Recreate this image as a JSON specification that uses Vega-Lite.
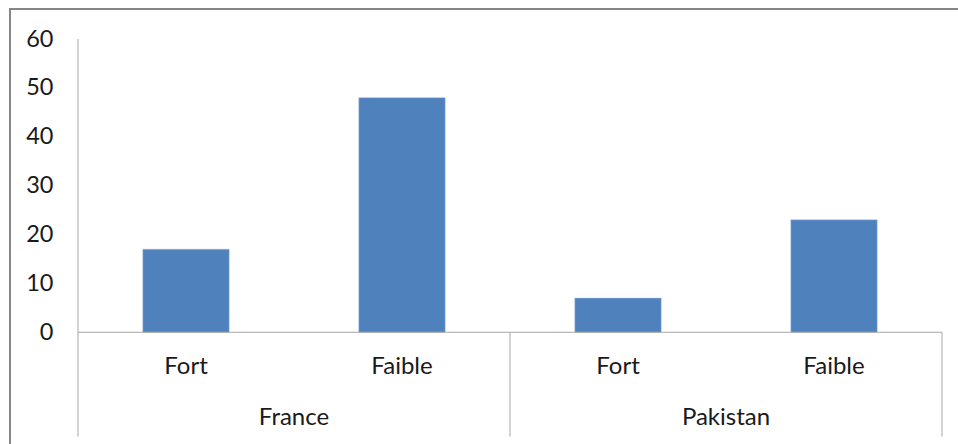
{
  "$schema": "https://vega.github.io/schema/vega-lite/v6.json",
  "width": 960,
  "height": 450,
  "autosize": {"type": "none"},
  "padding": {"left": 10, "top": 9, "right": 0, "bottom": 0},
  "background": "white",
  "config": {
    "view": {"stroke": "#868686", "strokeWidth": 2},
    "font": "Lato",
    "text": {"font": "Lato", "fontSize": 24, "color": "#1a1a1a"},
    "rule": {"color": "#a6a6a6", "strokeWidth": 1}
  },
  "data": {
    "values": [
      {"bar": "France Fort", "country": "France", "level": "Fort", "value": 17},
      {"bar": "France Faible", "country": "France", "level": "Faible", "value": 48},
      {"bar": "Pakistan Fort", "country": "Pakistan", "level": "Fort", "value": 7},
      {"bar": "Pakistan Faible", "country": "Pakistan", "level": "Faible", "value": 23}
    ]
  },
  "encoding": {
    "x": {
      "field": "bar",
      "type": "nominal",
      "sort": null,
      "scale": {"paddingInner": 0.6, "paddingOuter": 0.5222, "align": 0.5887},
      "axis": null
    }
  },
  "layer": [
    {
      "mark": {"type": "bar", "color": "#4F81BD", "stroke": "#A7BFDE", "strokeWidth": 0.5},
      "encoding": {
        "y": {
          "field": "value",
          "type": "quantitative",
          "scale": {"domain": [-25.92, 66.14], "nice": false, "zero": false},
          "axis": {
            "values": [0, 10, 20, 30, 40, 50, 60],
            "domain": false,
            "ticks": false,
            "grid": false,
            "offset": -68,
            "labelPadding": 25,
            "title": null,
            "labelFont": "Lato",
            "labelFontSize": 23.5,
            "labelColor": "#1a1a1a"
          }
        },
        "y2": {"datum": 0}
      }
    },
    {
      "transform": [{"filter": "datum.level == 'Fort'"}],
      "mark": {"type": "rule"},
      "encoding": {
        "x": {"field": "bar", "type": "nominal", "sort": null, "bandPosition": -0.75},
        "y": {"datum": 0, "type": "quantitative", "scale": {"domain": [-25.92, 66.14], "nice": false, "zero": false}},
        "y2": {"datum": -21.36}
      }
    },
    {
      "transform": [{"filter": "datum.bar == 'France Fort'"}],
      "mark": {"type": "rule"},
      "encoding": {
        "x": {"field": "bar", "type": "nominal", "sort": null, "bandPosition": -0.75},
        "y": {"datum": 60, "type": "quantitative", "scale": {"domain": [-25.92, 66.14], "nice": false, "zero": false}},
        "y2": {"datum": 0}
      }
    },
    {
      "transform": [{"filter": "datum.bar == 'Pakistan Faible'"}],
      "mark": {"type": "rule"},
      "encoding": {
        "x": {"field": "bar", "type": "nominal", "sort": null, "bandPosition": 1.75},
        "y": {"datum": 0, "type": "quantitative", "scale": {"domain": [-25.92, 66.14], "nice": false, "zero": false}},
        "y2": {"datum": -21.36}
      }
    },
    {
      "mark": {"type": "tick", "orient": "horizontal", "size": 216, "thickness": 1, "color": "#a6a6a6", "opacity": 1},
      "encoding": {
        "x": {"field": "bar", "type": "nominal", "sort": null},
        "y": {"datum": 0, "type": "quantitative", "scale": {"domain": [-25.92, 66.14], "nice": false, "zero": false}}
      }
    },
    {
      "mark": {"type": "text", "align": "center", "baseline": "middle"},
      "encoding": {
        "x": {"field": "bar", "type": "nominal", "sort": null},
        "y": {"datum": -7.1, "type": "quantitative", "scale": {"domain": [-25.92, 66.14], "nice": false, "zero": false}},
        "text": {"field": "level"}
      }
    },
    {
      "transform": [{"filter": "datum.level == 'Faible'"}],
      "mark": {"type": "text", "align": "center", "baseline": "middle"},
      "encoding": {
        "x": {"field": "bar", "type": "nominal", "sort": null, "bandPosition": -0.75},
        "y": {"datum": -17.6, "type": "quantitative", "scale": {"domain": [-25.92, 66.14], "nice": false, "zero": false}},
        "text": {"field": "country"}
      }
    }
  ]
}
